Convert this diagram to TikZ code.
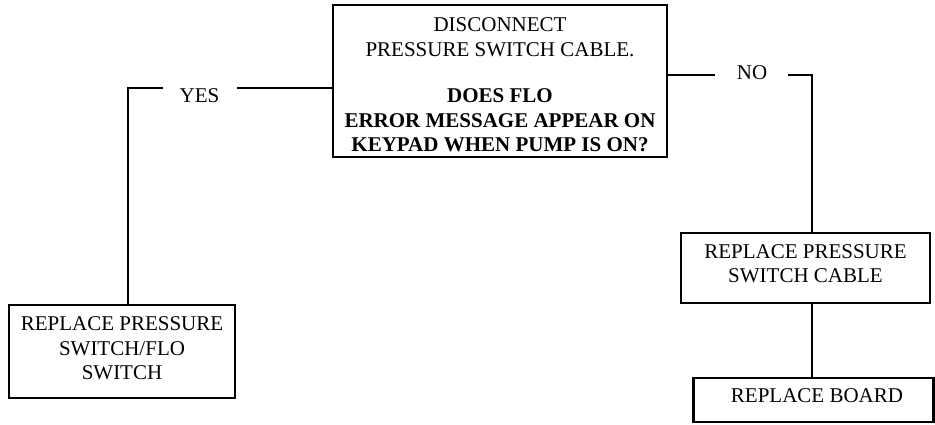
\documentclass[tikz,border=0pt]{standalone}
\usepackage{fontspec}
\setmainfont{Liberation Serif}
\begin{document}
\begin{tikzpicture}[x=1pt,y=-1pt,
  box/.style={draw, line width=2.6pt, inner sep=0pt, rectangle},
  txt/.style={font=\fontsize{21}{24.5}\selectfont, align=center, inner sep=0pt},
  conn/.style={line width=2.1pt}]
\useasboundingbox (0,0) rectangle (935,424);
% boxes
\node[box, minimum width=334pt, minimum height=152pt] (main) at (500,81) {};
\node[txt] (maintext) at (500,85) {DISCONNECT\\PRESSURE SWITCH CABLE.\\[22pt]\textbf{DOES FLO}\\\textbf{ERROR MESSAGE APPEAR ON}\\\textbf{KEYPAD WHEN PUMP IS ON?}};
\node[box, minimum width=226pt, minimum height=93pt] (lbox) at (122,351.5) {};
\node[txt] (ltext) at (122,348.5) {REPLACE PRESSURE\\SWITCH/FLO\\SWITCH};
\node[box, minimum width=249pt, minimum height=70pt] (rbox) at (805.5,268) {};
\node[txt] (rtext) at (805.5,263.5) {REPLACE PRESSURE\\SWITCH CABLE};
\node[box, minimum width=240pt, minimum height=44pt] (bbox) at (813.5,400) {};
\node[txt] (btext) at (817,395.5) {REPLACE BOARD};
% labels
\node[txt] (yes) at (199.5,95.5) {YES};
\node[txt] (no) at (752,72.5) {NO};
% connectors
\coordinate (yesR) at (237,88);
\coordinate (yesL) at (163,88);
\coordinate (yesC) at (128,88);
\draw[conn] (main.west |- yesR) -- (yesR);
\draw[conn] (yesL) -- (yesC) -- (yesC |- lbox.north);
\coordinate (noL) at (715,75);
\coordinate (noR) at (788,75);
\coordinate (noC) at (812,75);
\draw[conn] (main.east |- noL) -- (noL);
\draw[conn] (noR) -- (noC) -- (noC |- rbox.north);
\draw[conn] (noC |- rbox.south) -- (noC |- bbox.north);
\end{tikzpicture}
\end{document}
